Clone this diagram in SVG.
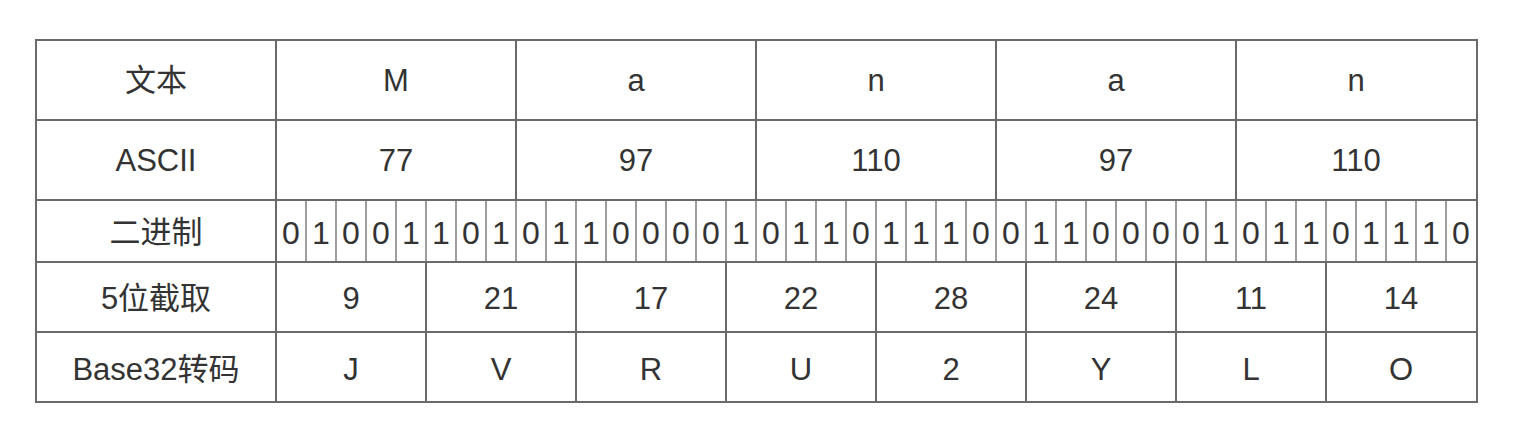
<svg xmlns="http://www.w3.org/2000/svg" width="1520" height="440" viewBox="0 0 1520 440">
<style>
.grid{stroke:#6a6a6a;stroke-width:2;fill:none}
.thin{stroke:#6a6a6a;stroke-width:1.3;fill:none}
text{font-family:"Liberation Sans","Noto Sans CJK SC",sans-serif;font-size:31px;fill:#333;text-anchor:middle}
.bit{font-size:32px}
</style>
<rect width="1520" height="440" fill="#fff"/>
<g id="connectors">
<rect class="grid" x="36" y="40" width="1441" height="362"/>
<path class="grid" d="M36 120H1477M36 200H1477M36 262H1477M36 332H1477M276 40V402"/>
<path class="grid" d="M516 40V200M756 40V200M996 40V200M1236 40V200"/>
<path class="grid" d="M426 262V402M576 262V402M726 262V402M876 262V402M1026 262V402M1176 262V402M1326 262V402"/>
<path class="thin" d="M306 200V262M336 200V262M366 200V262M396 200V262M426 200V262M456 200V262M486 200V262M516 200V262M546 200V262M576 200V262M606 200V262M636 200V262M666 200V262M696 200V262M726 200V262M756 200V262M786 200V262M816 200V262M846 200V262M876 200V262M906 200V262M936 200V262M966 200V262M996 200V262M1026 200V262M1056 200V262M1086 200V262M1116 200V262M1146 200V262M1176 200V262M1206 200V262M1236 200V262M1266 200V262M1296 200V262M1326 200V262M1356 200V262M1386 200V262M1416 200V262M1446 200V262"/>
</g>
<g id="row-text">
<text x="156" y="91">文本</text>
<text x="396" y="91">M</text>
<text x="636" y="91">a</text>
<text x="876" y="91">n</text>
<text x="1116" y="91">a</text>
<text x="1356" y="91">n</text>
</g>
<g id="row-ascii">
<text x="156" y="171">ASCII</text>
<text x="396" y="171">77</text>
<text x="636" y="171">97</text>
<text x="876" y="171">110</text>
<text x="1116" y="171">97</text>
<text x="1356" y="171">110</text>
</g>
<g id="row-binary">
<text x="156" y="243">二进制</text>
<text class="bit" x="291" y="244">0</text><text class="bit" x="321" y="244">1</text><text class="bit" x="351" y="244">0</text><text class="bit" x="381" y="244">0</text><text class="bit" x="411" y="244">1</text><text class="bit" x="441" y="244">1</text><text class="bit" x="471" y="244">0</text><text class="bit" x="501" y="244">1</text>
<text class="bit" x="531" y="244">0</text><text class="bit" x="561" y="244">1</text><text class="bit" x="591" y="244">1</text><text class="bit" x="621" y="244">0</text><text class="bit" x="651" y="244">0</text><text class="bit" x="681" y="244">0</text><text class="bit" x="711" y="244">0</text><text class="bit" x="741" y="244">1</text>
<text class="bit" x="771" y="244">0</text><text class="bit" x="801" y="244">1</text><text class="bit" x="831" y="244">1</text><text class="bit" x="861" y="244">0</text><text class="bit" x="891" y="244">1</text><text class="bit" x="921" y="244">1</text><text class="bit" x="951" y="244">1</text><text class="bit" x="981" y="244">0</text>
<text class="bit" x="1011" y="244">0</text><text class="bit" x="1041" y="244">1</text><text class="bit" x="1071" y="244">1</text><text class="bit" x="1101" y="244">0</text><text class="bit" x="1131" y="244">0</text><text class="bit" x="1161" y="244">0</text><text class="bit" x="1191" y="244">0</text><text class="bit" x="1221" y="244">1</text>
<text class="bit" x="1251" y="244">0</text><text class="bit" x="1281" y="244">1</text><text class="bit" x="1311" y="244">1</text><text class="bit" x="1341" y="244">0</text><text class="bit" x="1371" y="244">1</text><text class="bit" x="1401" y="244">1</text><text class="bit" x="1431" y="244">1</text><text class="bit" x="1461" y="244">0</text>
</g>
<g id="row-5bit">
<text x="156" y="309">5位截取</text>
<text x="351" y="309">9</text>
<text x="501" y="309">21</text>
<text x="651" y="309">17</text>
<text x="801" y="309">22</text>
<text x="951" y="309">28</text>
<text x="1101" y="309">24</text>
<text x="1251" y="309">11</text>
<text x="1401" y="309">14</text>
</g>
<g id="row-base32">
<text x="156" y="380">Base32转码</text>
<text x="351" y="380">J</text>
<text x="501" y="380">V</text>
<text x="651" y="380">R</text>
<text x="801" y="380">U</text>
<text x="951" y="380">2</text>
<text x="1101" y="380">Y</text>
<text x="1251" y="380">L</text>
<text x="1401" y="380">O</text>
</g>
</svg>
